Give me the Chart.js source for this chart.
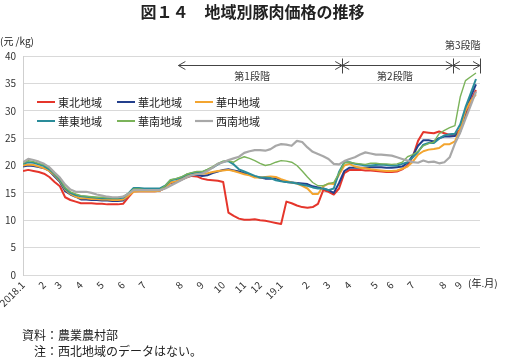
<!DOCTYPE html>
<html><head><meta charset="utf-8">
<script src="https://cdn.jsdelivr.net/npm/chart.js@4"></script>
<style>
body{margin:0;background:#fff;}
#wrap{position:relative;width:505px;height:357px;overflow:hidden;font-family:'Noto Sans CJK JP',sans-serif;color:#222;background:#fff;}
canvas{position:absolute;left:0;top:0;}
.t{position:absolute;white-space:nowrap;}
</style></head><body>
<div id="wrap">
<canvas id="c" width="505" height="357"></canvas>
<div class="t" style="left:0;width:505px;top:2px;line-height:18px;text-align:center;font-size:16px;font-weight:bold;">図１４　地域別豚肉価格の推移</div>
<div class="t" style="left:0;top:35px;line-height:12px;font-size:10px;">(元 /kg)</div>
<div class="t" style="left:468px;top:277px;line-height:12px;font-size:10px;">(年.月)</div>
<div class="t" style="left:22px;top:328px;line-height:14px;font-size:12px;">資料：農業農村部</div>
<div class="t" style="left:34px;top:344px;line-height:14px;font-size:12px;">注：西北地域のデータはない。</div>
</div>
<script>
// ---- data (weekly, 2018.1 - 2019.9) ----
const monthLabels = ['2018.1','2','3','4','5','6','7','8','9','10','11','12','19.1','2','3','4','5','6','7','8','9'];
const monthWeekIndex = [0,4,7,11,15,19,23,30,34,38,42,45,49,54,58,62,67,70,74,80,83];
const seriesNames = ['東北地域','華北地域','華中地域','華東地域','華南地域','西南地域'];

const tohoku = [19.0,19.2,19.0,18.8,18.5,17.9,17.0,16.2,14.2,13.7,13.4,13.1,13.1,13.1,13.0,13.0,12.9,12.9,12.9,13.0,
14.2,15.3,15.3,15.3,15.3,15.3,15.4,15.9,16.8,17.0,17.4,17.8,18.1,18.0,17.6,17.4,17.3,17.2,17.0,11.4,
10.8,10.3,10.1,10.1,10.2,10.0,9.9,9.7,9.5,9.3,13.4,13.1,12.7,12.4,12.3,12.4,13.0,15.5,15.2,14.7,
15.8,18.6,19.2,19.2,19.2,19.1,19.1,19.0,18.9,18.8,18.8,18.9,19.3,20.0,21.6,24.5,26.1,26.0,25.9,26.2,
25.9,25.6,25.6,26.6,29.2,31.8,33.8];
const kahoku = [19.8,20.0,19.9,19.7,19.5,19.0,18.0,17.0,15.3,14.7,14.3,13.8,13.8,13.7,13.7,13.6,13.6,13.5,13.5,13.6,
14.6,15.7,15.7,15.6,15.6,15.6,15.6,16.0,16.9,17.0,17.4,17.9,18.2,18.3,18.1,18.2,18.6,18.9,19.2,19.3,
19.1,18.9,18.6,18.3,18.0,17.8,17.6,17.6,17.7,17.2,17.0,16.9,16.8,16.7,16.6,16.2,16.0,15.8,15.5,15.0,
16.8,19.0,19.6,19.6,19.6,19.6,19.7,19.7,19.7,19.6,19.6,19.7,19.8,20.5,21.8,23.6,24.6,24.6,24.4,25.0,
25.3,25.3,25.4,26.2,29.8,32.6,34.8];
const kachu = [20.0,20.2,20.1,19.8,19.5,19.0,18.2,17.2,15.6,14.8,14.3,14.0,14.0,13.9,13.9,13.8,13.8,13.7,13.7,13.8,
14.5,15.2,15.3,15.3,15.3,15.3,15.4,15.9,16.9,17.1,17.5,18.0,18.4,18.6,18.5,18.6,18.8,19.0,19.1,19.2,
19.0,18.7,18.4,18.2,17.8,17.8,17.9,18.0,17.9,17.5,17.2,16.9,16.7,16.3,15.8,14.8,14.8,16.2,16.7,16.6,
18.3,20.0,20.3,19.8,19.6,19.5,19.3,19.2,19.1,19.0,19.0,19.1,19.4,19.8,20.7,22.0,22.6,22.9,23.0,23.2,
23.9,23.9,24.4,26.6,30.0,31.8,33.0];
const katou = [20.3,20.6,20.5,20.2,19.9,19.3,18.4,17.4,15.8,15.0,14.6,14.4,14.3,14.2,14.1,14.0,14.0,14.0,14.0,14.1,
14.9,15.9,15.9,15.8,15.8,15.8,15.8,16.3,17.3,17.5,17.8,18.3,18.6,18.8,18.8,19.2,19.6,20.2,20.7,20.8,
20.2,19.3,18.9,18.5,18.1,17.8,17.8,17.7,17.3,17.1,17.0,16.9,16.7,16.5,16.3,16.0,15.8,15.8,15.5,15.8,
18.8,20.6,20.6,20.3,20.2,20.0,20.0,20.1,20.2,20.1,20.0,20.0,20.3,20.6,21.5,22.5,23.8,24.1,24.1,24.9,
25.5,25.7,25.8,27.5,30.6,33.2,35.8];
const kanan = [20.4,20.9,20.7,20.4,20.1,19.5,18.5,17.6,16.0,15.2,14.8,14.5,14.4,14.3,14.2,14.2,14.1,14.1,14.1,14.3,
14.9,15.7,15.7,15.6,15.6,15.6,15.6,16.3,17.4,17.6,17.9,18.4,18.7,18.9,18.9,19.3,19.8,20.4,20.8,20.9,
20.6,21.2,21.6,21.3,20.9,20.4,20.0,20.2,20.6,20.9,20.8,20.6,20.0,19.0,17.9,16.9,16.3,16.3,16.7,16.9,
18.6,20.5,20.6,20.4,20.3,20.2,20.4,20.4,20.3,20.3,20.2,20.3,20.6,21.6,22.0,22.6,23.6,24.0,24.3,25.8,
26.4,26.9,27.3,32.5,35.5,36.2,36.9];
const seinan = [20.6,21.2,21.0,20.7,20.3,19.7,18.7,17.8,16.5,15.6,15.2,15.2,15.2,15.0,14.7,14.5,14.3,14.2,14.2,14.3,
14.8,15.5,15.5,15.5,15.5,15.5,15.5,15.8,16.3,16.8,17.3,17.8,18.2,18.4,18.5,19.0,19.6,20.3,20.6,21.0,
21.3,21.6,22.3,22.6,22.8,22.8,22.7,23.0,23.6,23.9,23.8,23.6,24.5,24.3,23.3,22.5,22.1,21.7,21.2,20.3,
20.2,20.8,21.2,21.5,22.0,22.4,22.2,22.0,22.0,21.9,21.8,21.5,21.2,20.9,20.6,20.5,20.9,20.6,20.7,20.4,
20.6,21.5,24.0,26.0,28.5,31.0,33.5];

// phase annotations (x in week-index units, y in value units)
const phaseBounds = [29.5, 60.6, 81.6, 86.76];
const phaseNames = ['第1段階','第2段階','第3段階'];
const phaseLabelX = [43.5, 70.6, 83.5];
const phaseLabelY = [36.3, 36.3, 42.0];
const phaseArrowY = 38.35;

const colors = ['#E5352B','#233F8C','#F3A530','#2A8C9A','#7BB35A','#A8A8A8'];
const widths = [2,2,2,2,1.4,2.2];
const seriesData = [tohoku,kahoku,kachu,katou,kanan,seinan];
const weeks = tohoku.map((_, i) => i);

const FONT = "'Noto Sans CJK JP', sans-serif";
Chart.defaults.font.family = FONT;

const legendPlugin = {
  id: 'customLegend',
  afterDatasetsDraw(chart) {
    const {ctx, chartArea} = chart;
    const colX = [14, 94, 172];
    const rowY = [46, 65];
    ctx.save();
    ctx.font = "11px " + FONT;
    ctx.textBaseline = 'middle';
    ctx.textAlign = 'left';
    chart.data.datasets.forEach((ds, i) => {
      const cx = chartArea.left + colX[i % 3];
      const cy = chartArea.top + rowY[Math.floor(i / 3)];
      ctx.strokeStyle = ds.borderColor;
      ctx.lineWidth = Math.max(ds.borderWidth, 2);
      ctx.beginPath(); ctx.moveTo(cx, cy); ctx.lineTo(cx + 18, cy); ctx.stroke();
      ctx.fillStyle = '#222';
      ctx.fillText(ds.label, cx + 21, cy + 0.5);
    });
    ctx.restore();
  }
};

const phasePlugin = {
  id: 'phases',
  afterDatasetsDraw(chart) {
    const {ctx} = chart;
    const x = chart.scales.x, y = chart.scales.y;
    const yy = Math.round(y.getPixelForValue(phaseArrowY)) + 0.5;
    ctx.save();
    ctx.strokeStyle = '#444';
    ctx.lineWidth = 1;
    for (let k = 0; k < phaseBounds.length - 1; k++) {
      const a = x.getPixelForValue(phaseBounds[k]);
      const b = x.getPixelForValue(phaseBounds[k + 1]);
      ctx.beginPath(); ctx.moveTo(a, yy); ctx.lineTo(b, yy); ctx.stroke();
      ctx.beginPath();
      ctx.moveTo(a + 7, yy - 4); ctx.lineTo(a, yy); ctx.lineTo(a + 7, yy + 4);
      ctx.moveTo(b - 7, yy - 4); ctx.lineTo(b, yy); ctx.lineTo(b - 7, yy + 4);
      ctx.stroke();
    }
    for (let k = 1; k < phaseBounds.length; k++) {
      const p = Math.round(x.getPixelForValue(phaseBounds[k])) + 0.5;
      ctx.beginPath(); ctx.moveTo(p, yy - 7); ctx.lineTo(p, yy + 8); ctx.stroke();
    }
    ctx.fillStyle = '#333';
    ctx.font = "10px " + FONT;
    ctx.textAlign = 'center';
    ctx.textBaseline = 'middle';
    phaseNames.forEach((n, k) => {
      ctx.fillText(n, x.getPixelForValue(phaseLabelX[k]), y.getPixelForValue(phaseLabelY[k]));
    });
    ctx.restore();
  }
};

new Chart(document.getElementById('c'), {
  type: 'line',
  data: {
    labels: weeks,
    datasets: seriesData.map((d, i) => ({
      label: seriesNames[i],
      data: d,
      borderColor: colors[i],
      backgroundColor: colors[i],
      borderWidth: widths[i],
      pointRadius: 0,
      tension: 0,
      fill: false,
      order: 5 - i,
      borderJoinStyle: 'round'
    }))
  },
  options: {
    responsive: false,
    animation: false,
    devicePixelRatio: 1,
    layout: { padding: { left: 0, right: 25, top: 56, bottom: 37 } },
    plugins: { legend: { display: false }, title: { display: false }, tooltip: { enabled: false } },
    scales: {
      x: {
        type: 'linear',
        min: 0,
        max: 86.76,
        grid: { display: false, drawTicks: false },
        border: { display: false },
        afterBuildTicks: (scale) => { scale.ticks = monthWeekIndex.map(v => ({ value: v })); },
        afterFit: (scale) => { scale.height = 45; scale.paddingLeft = 0; scale.paddingRight = 0; },
        ticks: {
          autoSkip: false,
          maxRotation: 45,
          minRotation: 45,
          padding: 4,
          color: '#333',
          font: { size: 10 },
          callback: (v, idx) => monthLabels[idx]
        }
      },
      y: {
        min: 0,
        max: 40,
        grid: { color: '#d9d9d9', drawTicks: false },
        border: { display: true, color: '#cfcfcf' },
        afterFit: (scale) => { scale.width = 23; },
        ticks: { stepSize: 5, padding: 7, color: '#333', font: { size: 10 } }
      }
    }
  },
  plugins: [legendPlugin, phasePlugin]
});
</script>
</body></html>
